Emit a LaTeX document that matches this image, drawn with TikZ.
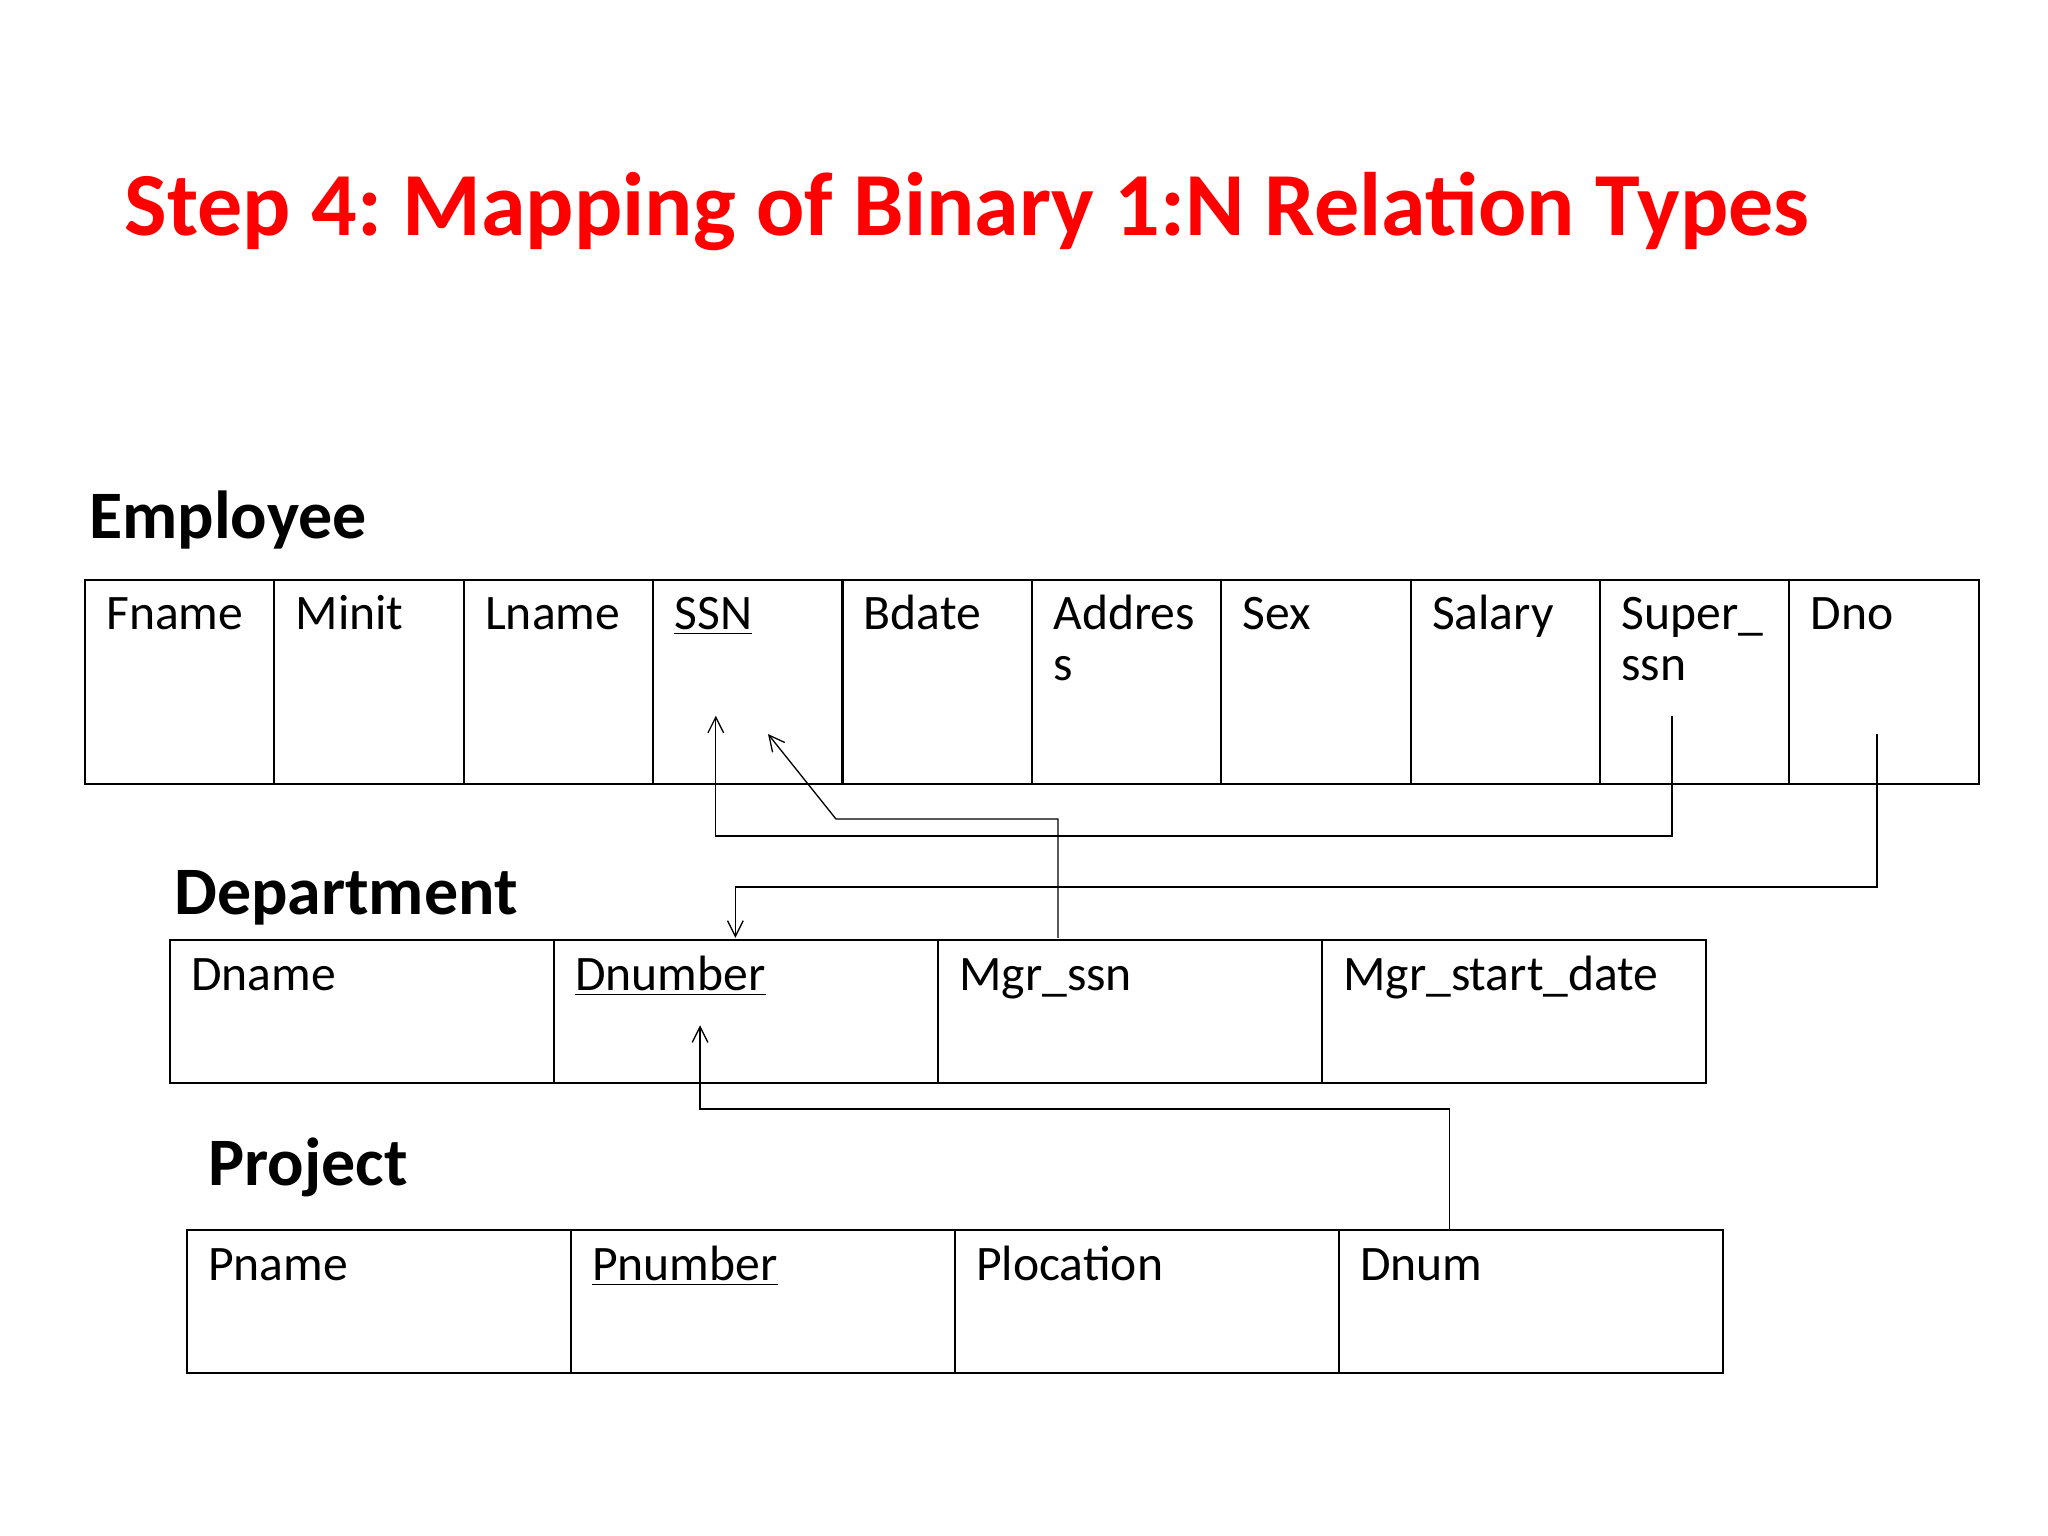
\documentclass[tikz,border=0pt]{standalone}
\usepackage{fontspec}
\setmainfont{Carlito}
\usetikzlibrary{arrows.meta}
\begin{document}
\frenchspacing
\begin{tikzpicture}[x=0.5pt,y=-0.5pt,
  celltxt/.style={anchor=base west,inner sep=0pt,font=\fontsize{19pt}{19.5pt}\selectfont,align=left},
  tlabel/.style={anchor=base west,inner sep=0pt,font=\fontsize{26pt}{28pt}\selectfont\bfseries},
  link/.style={line width=0.5pt},
  arr/.style={link,-{Straight Barb[length=6pt,width=6pt]}}]
\useasboundingbox (0,0) rectangle (1568,1176);
\node[anchor=base west,inner sep=0pt,text=red,font=\fontsize{34.5pt}{36pt}\selectfont\bfseries] (title) at (95,180) {Step 4: Mapping of Binary 1:N Relation Types};
% Employee
\node[tlabel] (emp) at (68,412) {Employee};
\foreach \i/\t in {0/Fname,1/Minit,2/Lname,3/\underline{SSN},4/Bdate,6/Sex,7/Salary,9/Dno}{
  \node[celltxt] (e\i) at ({81+145*\i},482) {\t};
}
\foreach \i in {0,...,9}{
  \draw[line width=0.8pt] ({65+145*\i},444) rectangle ({210+145*\i},600);
}
\node[celltxt] (e5) at ({81+145*5},521) {Addres\\s};
\node[celltxt] (e8) at ({81+145*8},521) {Super\_\\ssn};
% Department
\node[tlabel] (dep) at (133,700) {Department};
\foreach \i/\t in {0/Dname,1/\underline{Dnumber},2/Mgr\_ssn,3/Mgr\_start\_date}{
  \draw[line width=0.8pt] ({130+294*\i},720) rectangle ({424+294*\i},829);
  \node[celltxt] (d\i) at ({146+294*\i},758) {\t};
}
% Project
\node[tlabel] (proj) at (159,908) {Project};
\foreach \i/\t in {0/Pname,1/\underline{Pnumber},2/Plocation,3/Dnum}{
  \draw[line width=0.8pt] ({143+294*\i},942) rectangle ({437+294*\i},1051);
  \node[celltxt] (p\i) at ({159+294*\i},980) {\t};
}
% connectors
\coordinate (s1) at (1280,548); \coordinate (t1) at (548,548);
\draw[arr] (s1) -- (1280,640) -- (548,640) -- (t1);
\coordinate (s2) at (810,718); \coordinate (t2) at (588,562);
\draw[arr] (s2) -- (810,627) -- (640,627) -- (t2);
\coordinate (s3) at (1437,562); \coordinate (t3) at (563,718);
\draw[arr] (s3) -- (1437,679) -- (563,679) -- (t3);
\coordinate (s4) at (1110,942); \coordinate (t4) at (536,785);
\draw[arr] (s4) -- (1110,849) -- (536,849) -- (t4);
\end{tikzpicture}
\end{document}
